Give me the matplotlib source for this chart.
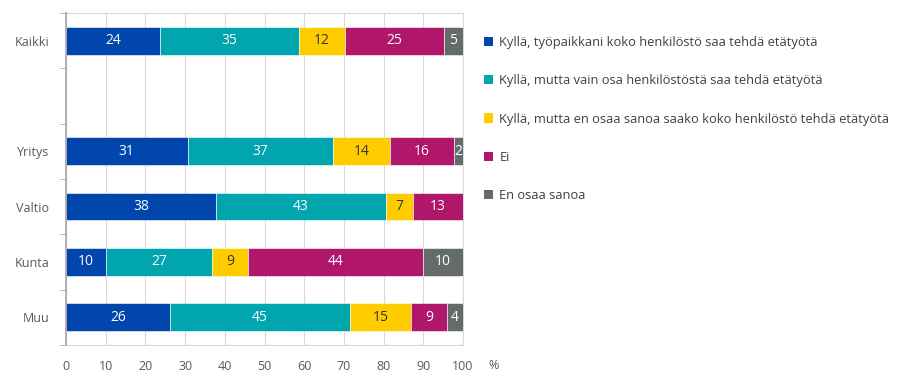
import numpy as np
import matplotlib.pyplot as plt
from matplotlib.patches import Patch

categories = ["Kaikki", "", "Yritys", "Valtio", "Kunta", "Muu"]
series = ["Kyllä, työpaikkani koko henkilöstö saa tehdä etätyötä",
          "Kyllä, mutta vain osa henkilöstöstä saa tehdä etätyötä",
          "Kyllä, mutta en osaa sanoa saako koko henkilöstö tehdä etätyötä",
          "Ei",
          "En osaa sanoa"]
# values per category (estimated unrounded shares), empty row for the gap
koko = [23.7, 0, 30.6, 37.8, 10.0, 26.3]
osa = [35.0, 0, 36.6, 42.8, 26.8, 45.2]
en_tieda_koko = [11.6, 0, 14.4, 6.8, 9.0, 15.4]
ei = [24.9, 0, 16.1, 12.6, 44.2, 9.1]
eos = [4.8, 0, 2.3, 0, 10.0, 4.0]
xticks = [0, 10, 20, 30, 40, 50, 60, 70, 80, 90, 100]

colors = ["#0046AD", "#00A5AD", "#FFCC00", "#B0166A", "#636B6B"]
textcolors = ["white", "white", "#333333", "white", "white"]

plt.rcParams['font.family'] = ['Open Sans', 'DejaVu Sans']

fig = plt.figure(figsize=(9.17, 3.77), dpi=100)
ax = fig.add_axes([0.072, 0.085, 0.433, 0.8805])

data = [koko, osa, en_tieda_koko, ei, eos]
y = np.arange(len(categories))
left = np.zeros(len(categories))
for vals, c, tc in zip(data, colors, textcolors):
    vals = np.array(vals)
    m = vals > 0
    ax.barh(y[m], vals[m], left=left[m], height=0.5, color=c, edgecolor="white",
            linewidth=0.4, zorder=3)
    for yi, v, l in zip(y[m], vals[m], left[m]):
        ax.text(l + v / 2, yi, str(int(round(v))), ha="center", va="center",
                color=tc, fontsize=10, zorder=4)
    left += vals

ax.set_xlim(0, 100)
ax.set_ylim(len(categories) - 0.5, -0.5)
ax.set_xticks(xticks)
ax.set_xticklabels([str(t) for t in xticks], color="#595959", fontsize=9)
ax.set_yticks(y)
ax.set_yticklabels(categories, color="#595959", fontsize=9)
ax.tick_params(axis="y", length=0, pad=12)
ax.tick_params(axis="x", length=0, pad=11)
# small ticks between categories
ax.set_yticks(np.arange(-0.5, len(categories), 1), minor=True)
ax.tick_params(axis="y", which="minor", length=4, color="#A6A6A6")
ax.grid(axis="x", color="#D9D9D9", linewidth=0.8, zorder=0)
for s in ["top", "right", "bottom"]:
    ax.spines[s].set_color("#D9D9D9")
ax.spines["left"].set_color("#A6A6A6")
ax.spines["left"].set_linewidth(1.2)
ax.spines["left"].set_zorder(5)

fig.text(0.533, 0.03, "%", color="#595959", fontsize=9, ha="left", va="center")

handles = [Patch(facecolor=c) for c in colors]
fig.legend(handles, series, loc="upper left", bbox_to_anchor=(0.515, 0.935), frameon=False,
           fontsize=9.3, labelcolor="#404040", handlelength=0.7, handleheight=0.7,
           handletextpad=0.5, labelspacing=1.95)

fig.savefig("out.png", dpi=100)
